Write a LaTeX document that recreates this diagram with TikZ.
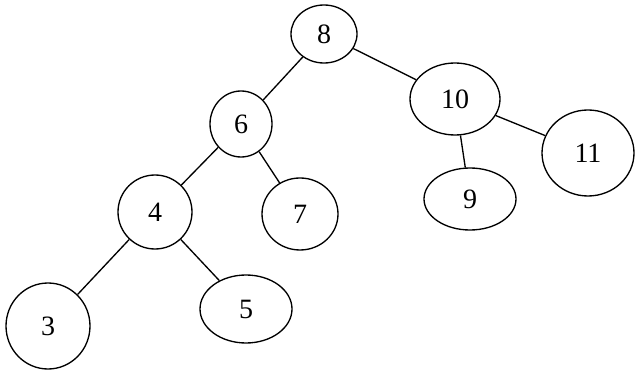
\documentclass[tikz,border=0pt]{standalone}
\usepackage{fontspec}
\setmainfont{Liberation Serif}
\usetikzlibrary{shapes.geometric}

\begin{document}
\begin{tikzpicture}[
    x=0.75pt, y=-0.75pt,
    vertex/.style={
        draw,
        ellipse,
        line width=1pt,
        inner sep=0pt,
        font=\fontsize{21}{21}\selectfont
    },
    edge/.style={line width=1pt}
]
\useasboundingbox (0,0) rectangle (635,370);

\node[vertex, minimum width=49.5pt, minimum height=43.5pt] (n8) at (324,34) {8};
\node[vertex, minimum width=67.5pt, minimum height=54pt] (n10) at (455,99) {10};
\node[vertex, minimum width=69pt, minimum height=64.5pt] (n11) at (588,153) {11};
\node[vertex, minimum width=46.5pt, minimum height=49.5pt] (n6) at (241,124) {6};
\node[vertex, minimum width=55.5pt, minimum height=55.5pt] (n4) at (155,212) {4};
\node[vertex, minimum width=57pt, minimum height=54pt] (n7) at (300,214) {7};
\node[vertex, minimum width=69pt, minimum height=46.5pt] (n9) at (470,199) {9};
\node[vertex, minimum width=63pt, minimum height=64.5pt] (n3) at (48,326) {3};
\node[vertex, minimum width=69pt, minimum height=51pt] (n5) at (246,309) {5};

\draw[edge] (n8) -- (n6);
\draw[edge] (n8) -- (n10);
\draw[edge] (n10) -- (n9);
\draw[edge] (n10) -- (n11);
\draw[edge] (n6) -- (n4);
\draw[edge] (n6) -- (n7);
\draw[edge] (n4) -- (n3);
\draw[edge] (n4) -- (n5);

\end{tikzpicture}
\end{document}
